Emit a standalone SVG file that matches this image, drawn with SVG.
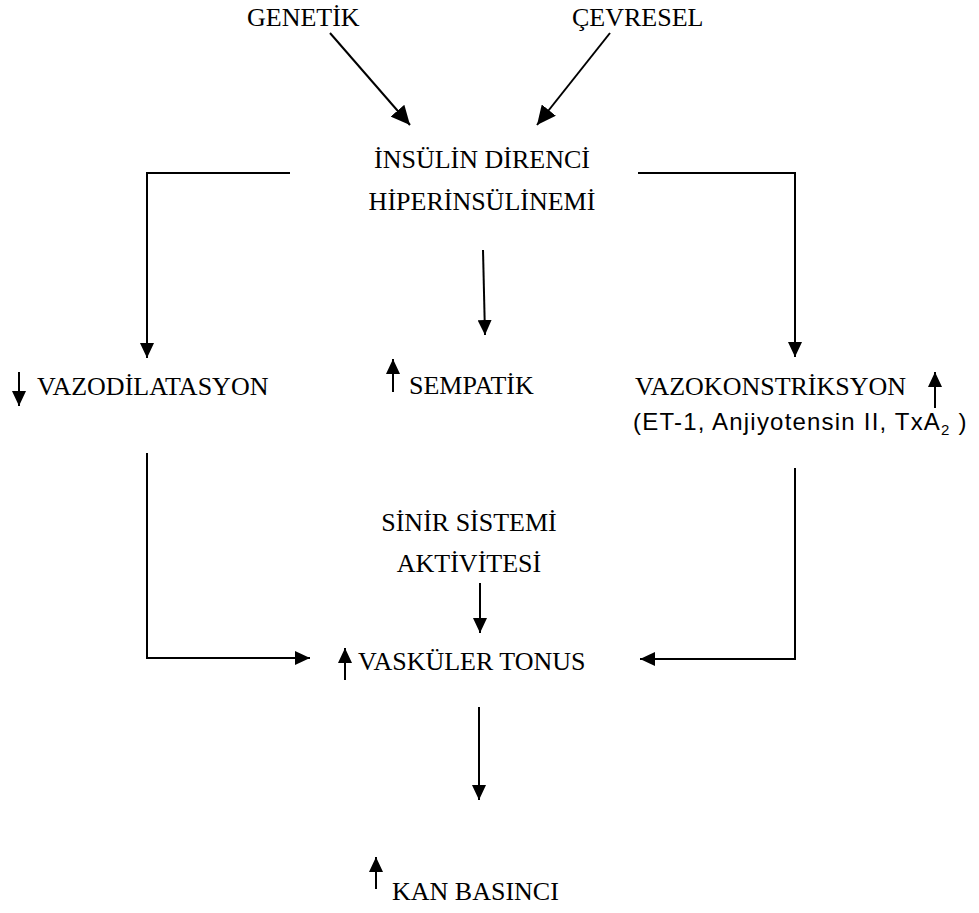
<svg xmlns="http://www.w3.org/2000/svg" width="979" height="913" viewBox="0 0 979 913">
<style>
.t{font-family:"Liberation Serif","Times New Roman",serif;font-size:26px;fill:#000}
.a{font-family:"Liberation Sans",Arial,sans-serif;font-size:24px;fill:#000}
.c{fill:none;stroke:#000;stroke-width:2}
</style>
<defs>
<marker id="ah" markerUnits="userSpaceOnUse" markerWidth="16" markerHeight="14" refX="15" refY="7" orient="auto">
<path d="M0,0 L15,7 L0,14 z" fill="#000"/>
</marker>
<marker id="ahb" markerUnits="userSpaceOnUse" markerWidth="20" markerHeight="18" refX="19" refY="9" orient="auto">
<path d="M0,0 L19,9 L0,18 z" fill="#000"/>
</marker>
</defs>
<rect width="979" height="913" fill="#fff"/>
<g id="connectors">
<line class="c" x1="330" y1="33" x2="410" y2="125" marker-end="url(#ahb)"/>
<line class="c" x1="610" y1="33" x2="537" y2="125" marker-end="url(#ahb)"/>
<polyline class="c" points="290,173 147,173 147,358" marker-end="url(#ah)"/>
<polyline class="c" points="638,173 795,173 795,357" marker-end="url(#ah)"/>
<line class="c" x1="483" y1="250" x2="485" y2="335" marker-end="url(#ah)"/>
<polyline class="c" points="147,453 147,658 310,658" marker-end="url(#ah)"/>
<polyline class="c" points="795,468 795,659 640,659" marker-end="url(#ah)"/>
<line class="c" x1="480" y1="583" x2="480" y2="633" marker-end="url(#ah)"/>
<line class="c" x1="479" y1="707" x2="479" y2="800" marker-end="url(#ah)"/>
</g>
<g id="genetik"><text class="t" x="247" y="26">GENETİK</text></g>
<g id="cevresel"><text class="t" x="572" y="26">ÇEVRESEL</text></g>
<g id="insulin"><text class="t" x="482" y="168" text-anchor="middle">İNSÜLİN DİRENCİ</text><text class="t" x="482" y="210" text-anchor="middle">HİPERİNSÜLİNEMİ</text></g>
<g id="vazodilatasyon"><line class="c" x1="19" y1="372" x2="19" y2="406" marker-end="url(#ah)"/><text class="t" x="37" y="395">VAZODİLATASYON</text></g>
<g id="sempatik"><line class="c" x1="393" y1="392" x2="393" y2="359" marker-end="url(#ah)"/><text class="t" x="409" y="394">SEMPATİK</text>
<text class="t" x="469" y="531" text-anchor="middle">SİNİR SİSTEMİ</text><text class="t" x="469" y="572" text-anchor="middle">AKTİVİTESİ</text></g>
<g id="vazokonstriksiyon"><text class="t" x="635" y="395">VAZOKONSTRİKSYON</text><line class="c" x1="935" y1="408" x2="935" y2="372" marker-end="url(#ah)"/>
<text class="a" x="633" y="430" letter-spacing="1.2">(ET-1, Anjiyotensin II, TxA<tspan font-size="15" dy="5">2</tspan><tspan dy="-5"> )</tspan></text></g>
<g id="vaskuler"><line class="c" x1="345" y1="680" x2="345" y2="648" marker-end="url(#ah)"/><text class="t" x="358" y="670">VASKÜLER TONUS</text></g>
<g id="kan"><line class="c" x1="376" y1="889" x2="376" y2="857" marker-end="url(#ah)"/><text class="t" x="392" y="900">KAN BASINCI</text></g>
</svg>
